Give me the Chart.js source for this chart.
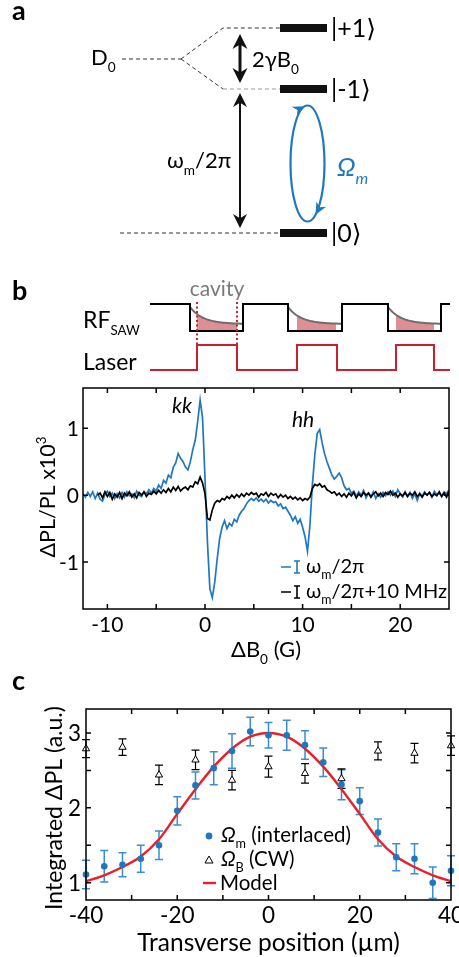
<!DOCTYPE html>
<html><head><meta charset="utf-8">
<script src="https://cdn.jsdelivr.net/npm/chart.js@4.4.1/dist/chart.umd.min.js"></script>
<style>
html,body{margin:0;padding:0;background:#fff;}
body{width:459px;height:957px;position:relative;overflow:hidden;}
canvas{position:absolute;left:0;}
</style></head>
<body>
<canvas id="schem" width="459" height="380" style="top:0"></canvas>
<canvas id="cb" width="459" height="290" style="top:380px"></canvas>
<canvas id="cc" width="459" height="287" style="top:670px"></canvas>
<script>
// ---------------- DATA ----------------
// Panel b: ΔPL/PL x10^3 vs ΔB0 (G), sampled every 0.25 G
const fieldStep = 0.25;
const blueStart = -12.5;
const blueTrace = [
 0.02,-0.03,0.04,-0.02,0.05,-0.05,0.03,-0.06,-0.09,0.01,
 0.06,-0.02,0.03,-0.05,0.02,-0.04,0.04,-0.03,0.05,-0.01,
 0.02,-0.04,0.06,0.00,-0.02,0.05,0.02,0.08,0.03,0.10,
 0.06,0.15,0.10,0.22,0.18,0.30,0.26,0.42,0.48,0.62,
 0.55,0.50,0.42,0.38,0.50,0.68,0.82,1.10,1.42,1.15,
 0.25,-0.70,-1.40,-1.53,-1.30,-0.95,-0.65,-0.48,-0.38,-0.50,
 -0.42,-0.46,-0.36,-0.40,-0.30,-0.24,-0.20,-0.13,-0.08,-0.05,
 -0.08,-0.04,-0.09,-0.06,-0.10,-0.06,-0.12,-0.08,-0.11,-0.10,
 -0.16,-0.13,-0.20,-0.18,-0.24,-0.30,-0.38,-0.32,-0.42,-0.36,
 -0.48,-0.62,-0.84,-0.45,0.15,0.60,0.92,0.98,0.78,0.62,
 0.50,0.40,0.30,0.24,0.28,0.33,0.26,0.14,0.08,0.10,
 0.03,0.06,-0.02,0.05,0.00,0.07,-0.04,0.03,-0.02,0.05,
 -0.05,0.02,-0.03,0.04,-0.01,0.05,0.00,0.06,-0.02,0.08,
 0.02,-0.03,0.05,-0.02,0.04,-0.05,0.02,-0.08,0.03,-0.02,
 0.05,0.00,0.04,-0.03,0.06,0.01,0.03,-0.02,0.05,0.02,
 0.08];
const blackStart = -11;
const blackTrace = [
 0.00,0.03,-0.04,0.05,-0.02,0.04,-0.06,0.02,-0.03,0.04,
 -0.05,0.03,-0.01,0.05,-0.03,0.02,-0.04,0.04,0.00,0.05,
 -0.02,0.03,0.01,0.06,0.02,0.07,0.03,0.08,0.04,0.10,
 0.05,0.12,0.07,0.13,0.06,0.10,0.12,0.08,0.14,0.12,
 0.20,0.17,0.27,0.18,0.02,-0.35,-0.37,-0.22,-0.12,-0.08,
 -0.10,-0.05,-0.07,-0.02,-0.05,0.00,-0.04,0.01,-0.03,0.02,
 -0.02,0.03,0.00,0.04,0.01,0.03,-0.03,0.02,0.00,0.04,
 -0.02,0.03,0.00,0.02,-0.04,0.01,-0.03,0.00,-0.05,-0.02,
 -0.06,-0.03,-0.07,-0.04,-0.08,-0.05,-0.07,-0.03,0.10,0.16,
 0.14,0.17,0.12,0.14,0.08,0.06,0.03,0.05,0.00,0.03,
 -0.02,0.02,-0.03,0.03,-0.01,0.04,-0.04,0.02,-0.02,0.04,
 0.00,0.03,-0.03,0.02,0.05,-0.01,0.03,-0.02,0.04,0.01,
 0.06,0.00,0.03,-0.03,0.02,-0.01,0.04,-0.02,0.03,0.00,
 0.05,-0.02,0.02,-0.03,0.03,0.00,0.04,-0.02,0.02,-0.01,
 0.05,-0.02,0.03,-0.03,0.06];
const bXTickMarks = [-10,-5,0,5,10,15,20];
const bXTickLabels = [-10,0,10,20];
const bYTicks = [-1,0,1];

// Panel c: integrated ΔPL vs transverse position
const positions = [-40,-36,-32,-28,-24,-20,-16,-12,-8,-4,0,4,8,12,16,20,24,28,32,36,40];
const omegaM    = [1.11,1.22,1.24,1.32,1.50,1.96,2.30,2.53,2.76,3.02,2.97,2.97,2.84,2.61,2.31,2.09,1.67,1.34,1.32,1.00,1.16];
const omegaMErr = [0.19,0.21,0.16,0.18,0.19,0.19,0.18,0.22,0.23,0.19,0.17,0.20,0.19,0.19,0.20,0.18,0.18,0.18,0.20,0.21,0.20];
const cwPos     = [-40,-32,-24,-16,-8,0,8,16,24,32,40];
const omegaB    = [2.79,2.81,2.44,2.64,2.37,2.55,2.46,2.39,2.76,2.73,2.83];
const omegaBErr = [0.12,0.11,0.13,0.13,0.13,0.14,0.13,0.13,0.12,0.13,0.13];
const modelX    = [-40,-36,-32,-28,-24,-20,-16,-12,-8,-4,0,4,8,12,16,20,24,28,32,36,40];
const modelY    = [1.02,1.10,1.21,1.35,1.58,1.92,2.25,2.55,2.79,2.95,3.00,2.95,2.79,2.55,2.25,1.92,1.58,1.35,1.21,1.10,1.02];
const cXTickMarks = [-30,-20,-10,0,10,20,30];
const cXTickLabels = [-40,-20,0,20,40];
const cYTickMarks = [1,1.5,2,2.5,3];
const cYTickLabels = [1,2,3];

// ---------------- STYLE ----------------
const FONT = 'Lato, "Noto Sans", "DejaVu Sans", sans-serif';
const BLUE = '#1f78bf';
const RED_LASER = '#c8202f';
const RED_MODEL = '#e8202a';

function rich(ctx, parts, x, y, o = {}) {
  const size = o.size || 20, fam = o.family || FONT, col = o.color || '#000', align = o.align || 'left';
  const segs = parts.map(p => {
    const [t, s = ''] = Array.isArray(p) ? p : [p, ''];
    const small = s.includes('sub') || s.includes('sup');
    const fs = small ? size * (o.subScale || 0.62) : size;
    const font = (s.startsWith('i') ? 'italic ' : '') + (o.bold ? 'bold ' : '') + fs + 'px ' + fam;
    ctx.font = font;
    const w = ctx.measureText(t).width;
    const dy = s.includes('sub') ? size * 0.3 : s.includes('sup') ? -size * 0.42 : 0;
    return { t, font, w, dy };
  });
  const total = segs.reduce((a, s) => a + s.w, 0);
  let cx = align === 'center' ? x - total / 2 : align === 'right' ? x - total : x;
  ctx.fillStyle = col; ctx.textAlign = 'left'; ctx.textBaseline = 'alphabetic';
  segs.forEach(s => { ctx.font = s.font; ctx.fillText(s.t, cx, y + s.dy); cx += s.w; });
  return total;
}
function richRot(ctx, parts, x, y, o) {
  ctx.save(); ctx.translate(x, y); ctx.rotate(-Math.PI / 2);
  rich(ctx, parts, 0, 0, Object.assign({ align: 'center' }, o));
  ctx.restore();
}
function arrowHead(ctx, tx, ty, dx, dy, len, hw, color) {
  const n = Math.hypot(dx, dy); dx /= n; dy /= n;
  const bx = tx - dx * len, by = ty - dy * len;
  const px = -dy, py = dx;
  ctx.fillStyle = color;
  ctx.beginPath();
  ctx.moveTo(tx, ty);
  ctx.lineTo(bx + px * hw, by + py * hw);
  ctx.lineTo(tx - dx * len * 0.7, ty - dy * len * 0.7);
  ctx.lineTo(bx - px * hw, by - py * hw);
  ctx.closePath(); ctx.fill();
}

// ---------------- SCHEMATIC (panel a + top of b) ----------------
(function () {
  const ctx = document.getElementById('schem').getContext('2d');
  // panel letters
  rich(ctx, ['a'], 12, 20, { size: 27, bold: true });
  rich(ctx, ['b'], 12, 300, { size: 27, bold: true });

  // dashed level lines
  ctx.lineWidth = 1; ctx.setLineDash([4, 3]);
  ctx.strokeStyle = '#333';
  ctx.beginPath();
  ctx.moveTo(122, 59); ctx.lineTo(181, 59);
  ctx.moveTo(181, 59); ctx.lineTo(223, 28); ctx.lineTo(280, 28);
  ctx.moveTo(181, 59); ctx.lineTo(223, 89);
  ctx.moveTo(120, 233); ctx.lineTo(280, 233);
  ctx.stroke();
  ctx.strokeStyle = '#999';
  ctx.beginPath(); ctx.moveTo(223, 89); ctx.lineTo(280, 89); ctx.stroke();
  ctx.setLineDash([]);

  // level bars
  ctx.fillStyle = '#111';
  [28, 89, 233].forEach(y => ctx.fillRect(280, y - 4, 47, 8));

  // kets
  rich(ctx, ['|+1⟩'], 331, 37, { size: 25 });
  rich(ctx, ['|-1⟩'], 331, 98, { size: 25 });
  rich(ctx, ['|0⟩'], 331, 242, { size: 25 });
  rich(ctx, ['D', ['0', 'sub']], 91, 65, { size: 22 });

  // 2γB0 arrow
  ctx.strokeStyle = '#111'; ctx.lineWidth = 3;
  ctx.beginPath(); ctx.moveTo(240, 44); ctx.lineTo(240, 74); ctx.stroke();
  arrowHead(ctx, 240, 34, 0, -1, 15, 7.5, '#111');
  arrowHead(ctx, 240, 83, 0, 1, 15, 7.5, '#111');
  rich(ctx, ['2γB', ['0', 'sub']], 252, 67, { size: 22 });

  // ωm/2π arrow
  ctx.lineWidth = 2;
  ctx.beginPath(); ctx.moveTo(240, 100); ctx.lineTo(240, 221); ctx.stroke();
  arrowHead(ctx, 240, 93, 0, -1, 14, 7, '#111');
  arrowHead(ctx, 240, 228, 0, 1, 14, 7, '#111');
  rich(ctx, ['ω', ['m', 'sub'], '/2π'], 167, 168, { size: 22 });

  // blue loop
  const cx = 307.5, cy = 163.5, rx = 17, ry = 58;
  ctx.strokeStyle = BLUE; ctx.lineWidth = 2.2;
  ctx.beginPath(); ctx.ellipse(cx, cy, rx, ry, 0, 0, Math.PI * 2); ctx.stroke();
  [-1.72, 1.08].forEach(th => {
    const px = cx + rx * Math.cos(th), py = cy + ry * Math.sin(th);
    arrowHead(ctx, px, py, -rx * Math.sin(th), ry * Math.cos(th), 12, 5.5, BLUE);
  });
  rich(ctx, [['Ω', 'i'], ['m', 'isub']], 337, 176, { size: 26, color: BLUE });

  // RF SAW / Laser labels
  rich(ctx, ['RF', ['SAW', 'sub']], 83, 328, { size: 23, subScale: 0.58 });
  rich(ctx, ['Laser'], 83, 370, { size: 23 });
  rich(ctx, ['cavity'], 217, 296, { size: 21, color: '#7a7a7a', align: 'center' });

  // pink cavity fill + gray decay
  const lowY = 331, highY = 304;
  const lows = [[190, 243], [288, 342], [388, 441]];
  const pinks = [[197, 237], [297, 336], [396, 434]];
  const decay = (x, x0) => 324 - 17 * Math.exp(-(x - x0) / 13);
  lows.forEach(([x0, x1], k) => {
    const [p0, p1] = pinks[k];
    ctx.fillStyle = '#de8f95';
    ctx.beginPath(); ctx.moveTo(p0, lowY);
    for (let x = p0; x <= p1; x += 1) ctx.lineTo(x, decay(x, x0));
    ctx.lineTo(p1, lowY); ctx.closePath(); ctx.fill();
    ctx.strokeStyle = '#6e6e6e'; ctx.lineWidth = 2;
    ctx.beginPath();
    for (let x = x0; x <= x1 - 1; x += 1) { const y = decay(x, x0); x === x0 ? ctx.moveTo(x, y) : ctx.lineTo(x, y); }
    ctx.stroke();
  });
  // RF waveform
  ctx.strokeStyle = '#000'; ctx.lineWidth = 2;
  const rf = [[150, highY], [190, highY], [190, lowY], [243, lowY], [243, highY], [288, highY], [288, lowY], [342, lowY], [342, highY], [388, highY], [388, lowY], [441, lowY], [441, highY], [450, highY]];
  ctx.beginPath(); rf.forEach(([x, y], i) => i ? ctx.lineTo(x, y) : ctx.moveTo(x, y)); ctx.stroke();
  // laser
  const lh = 345, ll = 370;
  const laser = [[150, ll], [197, ll], [197, lh], [237, lh], [237, ll], [297, ll], [297, lh], [337, lh], [337, ll], [396, ll], [396, lh], [434, lh], [434, ll], [450, ll]];
  ctx.strokeStyle = RED_LASER;
  ctx.beginPath(); laser.forEach(([x, y], i) => i ? ctx.lineTo(x, y) : ctx.moveTo(x, y)); ctx.stroke();
  // dotted markers
  ctx.setLineDash([2, 2.5]); ctx.lineWidth = 2;
  ctx.beginPath(); ctx.moveTo(197, 302); ctx.lineTo(197, 344); ctx.moveTo(237, 302); ctx.lineTo(237, 344); ctx.stroke();
  ctx.setLineDash([]);
})();

// ---------------- common helpers ----------------
function frame(chart, xMarks, yMarks, len) {
  const { ctx, chartArea: a, scales: { x, y } } = chart;
  ctx.save(); ctx.strokeStyle = '#000'; ctx.lineWidth = 1.5;
  ctx.strokeRect(a.left, a.top, a.right - a.left, a.bottom - a.top);
  ctx.beginPath();
  xMarks.forEach(v => { const p = x.getPixelForValue(v); ctx.moveTo(p, a.bottom); ctx.lineTo(p, a.bottom - len); ctx.moveTo(p, a.top); ctx.lineTo(p, a.top + len); });
  yMarks.forEach(v => { const p = y.getPixelForValue(v); ctx.moveTo(a.left, p); ctx.lineTo(a.left + len, p); ctx.moveTo(a.right, p); ctx.lineTo(a.right - len, p); });
  ctx.stroke(); ctx.restore();
}
function tickLabels(chart, xl, yl, size, xBase, yGap) {
  const { ctx, chartArea: a, scales: { x, y } } = chart;
  ctx.save();
  xl.forEach(v => rich(ctx, [String(v)], x.getPixelForValue(v), xBase, { size, align: 'center' }));
  yl.forEach(v => rich(ctx, [String(v)], a.left - yGap, y.getPixelForValue(v) + size * 0.36, { size, align: 'right' }));
  ctx.restore();
}

// ---------------- PANEL b chart ----------------
const bluePts = blueTrace.map((v, i) => ({ x: blueStart + i * fieldStep, y: v }));
const blackPts = blackTrace.map((v, i) => ({ x: blackStart + i * fieldStep, y: v }));

new Chart(document.getElementById('cb'), {
  type: 'line',
  data: { datasets: [
    { label: 'ωm/2π+10 MHz', data: blackPts, borderColor: '#000', borderWidth: 1.7, pointRadius: 0, tension: 0 },
    { label: 'ωm/2π', data: bluePts, borderColor: BLUE, borderWidth: 1.7, pointRadius: 0, tension: 0 }
  ] },
  options: {
    responsive: false, animation: false, devicePixelRatio: 1, events: [],
    layout: { padding: { left: 83, right: 10, top: 8, bottom: 61 } },
    scales: {
      x: { type: 'linear', min: -12.5, max: 25, display: false },
      y: { type: 'linear', min: -1.7, max: 1.6, display: false }
    },
    plugins: { legend: { display: false }, tooltip: { enabled: false } }
  },
  plugins: [{
    id: 'decoB',
    afterDraw(chart) {
      const ctx = chart.ctx, a = chart.chartArea;
      frame(chart, bXTickMarks, bYTicks, 5);
      tickLabels(chart, bXTickLabels, bYTicks, 21, 252, 4);
      rich(ctx, ['ΔB', ['0', 'sub'], ' (G)'], (a.left + a.right) / 2, 277, { size: 22, align: 'center' });
      richRot(ctx, ['ΔPL/PL x10', ['3', 'sup']], 55, 117, { size: 21.5 });
      rich(ctx, [['kk', 'i']], 172, 33, { size: 21 });
      rich(ctx, [['hh', 'i']], 292, 47, { size: 21 });
      // legend
      const rows = [[BLUE, 187, ['ω', ['m', 'sub'], '/2π']], ['#000', 212, ['ω', ['m', 'sub'], '/2π+10 MHz']]];
      rows.forEach(([c, yy, parts]) => {
        ctx.save(); ctx.strokeStyle = c; ctx.lineWidth = 1.6;
        ctx.beginPath(); ctx.moveTo(281, yy); ctx.lineTo(291, yy);
        ctx.moveTo(297, yy - 6); ctx.lineTo(297, yy + 6);
        ctx.moveTo(294, yy - 6); ctx.lineTo(300, yy - 6);
        ctx.moveTo(294, yy + 6); ctx.lineTo(300, yy + 6);
        ctx.stroke(); ctx.restore();
        rich(ctx, parts, 306, yy + 6, { size: 20 });
      });
    }
  }]
});

// ---------------- PANEL c chart ----------------
const blueC = positions.map((x, i) => ({ x, y: omegaM[i] }));
const triC = cwPos.map((x, i) => ({ x, y: omegaB[i] }));
const modelC = modelX.map((x, i) => ({ x, y: modelY[i] }));

new Chart(document.getElementById('cc'), {
  type: 'scatter',
  data: { datasets: [
    { label: 'ΩB (CW)', data: triC, pointStyle: 'triangle', pointRadius: 4.2, borderColor: '#000', backgroundColor: '#fff', borderWidth: 1, clip: false },
    { label: 'Ωm (interlaced)', data: blueC, pointStyle: 'circle', pointRadius: 3.3, backgroundColor: BLUE, borderWidth: 0, clip: false },
    { label: 'Model', data: modelC, showLine: true, pointRadius: 0, borderColor: RED_MODEL, borderWidth: 2.4, cubicInterpolationMode: 'monotone' }
  ] },
  options: {
    responsive: false, animation: false, devicePixelRatio: 1, events: [],
    layout: { padding: { left: 86, right: 8, top: 39, bottom: 57 } },
    scales: {
      x: { type: 'linear', min: -40, max: 40, display: false },
      y: { type: 'linear', min: 0.77, max: 3.32, display: false }
    },
    plugins: { legend: { display: false }, tooltip: { enabled: false } }
  },
  plugins: [{
    id: 'decoC',
    beforeDatasetsDraw(chart) {
      const { ctx, scales: { x, y } } = chart;
      const bars = (xs, ys, es, col, lw) => {
        ctx.save(); ctx.strokeStyle = col; ctx.lineWidth = lw; ctx.beginPath();
        xs.forEach((xv, i) => {
          const px = x.getPixelForValue(xv), p1 = y.getPixelForValue(ys[i] + es[i]), p2 = y.getPixelForValue(ys[i] - es[i]);
          ctx.moveTo(px, p1); ctx.lineTo(px, p2);
          ctx.moveTo(px - 4, p1); ctx.lineTo(px + 4, p1);
          ctx.moveTo(px - 4, p2); ctx.lineTo(px + 4, p2);
        });
        ctx.stroke(); ctx.restore();
      };
      bars(positions, omegaM, omegaMErr, '#3a8fd0', 1.5);
      bars(cwPos, omegaB, omegaBErr, '#000', 1.2);
    },
    afterDraw(chart) {
      const ctx = chart.ctx, a = chart.chartArea;
      frame(chart, cXTickMarks, cYTickMarks, 5);
      tickLabels(chart, cXTickLabels, cYTickLabels, 22.5, 253, 5);
      rich(ctx, ['Transverse position (µm)'], (a.left + a.right) / 2, 281, { size: 24.5, align: 'center' });
      richRot(ctx, ['Integrated ΔPL (a.u.)'], 62, 138, { size: 23 });
      rich(ctx, ['c'], 12, 20, { size: 27, bold: true });
      // legend
      ctx.save();
      ctx.fillStyle = BLUE; ctx.beginPath(); ctx.arc(209, 166, 3.4, 0, Math.PI * 2); ctx.fill();
      ctx.strokeStyle = '#000'; ctx.lineWidth = 1; ctx.fillStyle = '#fff';
      ctx.beginPath(); ctx.moveTo(209, 186); ctx.lineTo(213, 193); ctx.lineTo(205, 193); ctx.closePath(); ctx.fill(); ctx.stroke();
      ctx.strokeStyle = RED_MODEL; ctx.lineWidth = 2.4;
      ctx.beginPath(); ctx.moveTo(203, 213); ctx.lineTo(216, 213); ctx.stroke();
      ctx.restore();
      rich(ctx, [['Ω', 'i'], ['m', 'sub'], ' (interlaced)'], 221, 172, { size: 20.5 });
      rich(ctx, [['Ω', 'i'], ['B', 'sub'], ' (CW)'], 221, 196, { size: 20.5 });
      rich(ctx, ['Model'], 220, 220, { size: 20.5 });
    }
  }]
});
</script>
</body></html>
